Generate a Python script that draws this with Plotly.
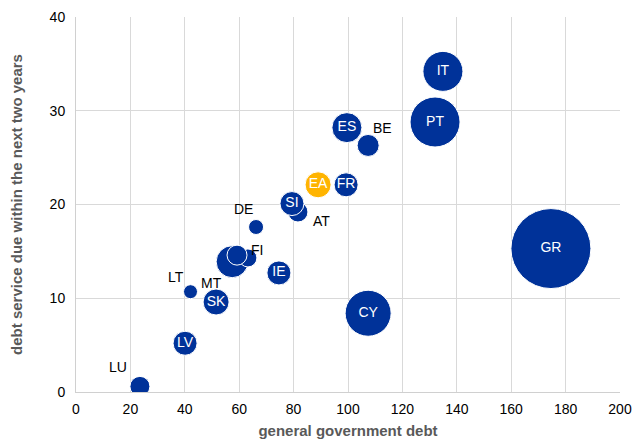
import plotly.graph_objects as go

# Data
countries = ["LU", "LT", "LV", "MT", "SK", "NL", "FI", "EE", "DE", "IE",
             "AT", "SI", "FR", "BE", "ES", "PT", "IT", "CY", "GR"]
gov_debt  = [23.5, 42.1, 40.1, 52.5, 51.5, 57.4, 63.2, 59.2, 66.2, 74.6,
             81.6, 79.4, 99.3, 107.4, 99.6, 132.0, 134.9, 107.4, 174.6]
debt_service = [0.6, 10.7, 5.2, 10.0, 9.6, 13.9, 14.3, 14.6, 17.6, 12.7,
                19.2, 20.1, 22.1, 26.3, 28.2, 28.8, 34.2, 8.4, 15.3]
bubble_value = [4.0, 1.96, 5.76, 1.0, 6.76, 10.24, 3.24, 4.0, 2.25, 5.76,
                4.0, 5.76, 5.76, 4.84, 9.0, 25.0, 16.0, 21.16, 64.0]

ea_label = ["EA"]
ea_debt = [89.0]
ea_service = [22.1]
ea_value = [6.76]

x_ticks = [0, 20, 40, 60, 80, 100, 120, 140, 160, 180, 200]
y_ticks = [0, 10, 20, 30, 40]

inside_labels = {"LV", "SK", "IE", "SI", "FR", "ES", "PT", "IT", "CY", "GR"}
# pixel offsets (x right, y up) of the outside labels
outside_shift = {"LU": (-22, 19), "LT": (-15, 15), "MT": (-7, 15),
                 "DE": (-13, 18), "FI": (9, 8), "AT": (24, -9), "BE": (14, 17)}

BLUE = "#003299"
YELLOW = "#FFB400"
SIZEREF = 0.02
FONT = "Liberation Sans, Arial"

fig = go.Figure()
fig.add_trace(go.Scatter(
    x=ea_debt, y=ea_service, text=ea_label, mode="markers+text",
    marker=dict(size=ea_value, sizemode="area", sizeref=SIZEREF, color=YELLOW,
                opacity=1, line=dict(color="white", width=1)),
    textposition="middle center",
    textfont=dict(color="white", size=14, family=FONT),
    hovertext=ea_label, showlegend=False))
fig.add_trace(go.Scatter(
    x=gov_debt, y=debt_service,
    text=[c if c in inside_labels else "" for c in countries],
    mode="markers+text",
    marker=dict(size=bubble_value, sizemode="area", sizeref=SIZEREF, color=BLUE,
                opacity=1, line=dict(color="white", width=1)),
    textposition="middle center",
    textfont=dict(color="white", size=14, family=FONT),
    hovertext=countries, showlegend=False))

for c, xv, yv in zip(countries, gov_debt, debt_service):
    if c in outside_shift:
        dx, dy = outside_shift[c]
        fig.add_annotation(x=xv, y=yv, text=c, showarrow=False,
                           xshift=dx, yshift=dy,
                           font=dict(color="black", size=14, family=FONT))

axis_common = dict(showgrid=True, gridcolor="#d9d9d9", gridwidth=1,
                   showline=True, linecolor="#d0d0d0", linewidth=1,
                   zeroline=False, ticks="outside", tickcolor="rgba(0,0,0,0)",
                   automargin=False,
                   tickfont=dict(family=FONT, size=14, color="black"))

fig.update_layout(
    width=625, height=431,
    margin=dict(l=68, r=13, t=9, b=47),
    plot_bgcolor="white", paper_bgcolor="white",
    xaxis=dict(range=[0, 200], tickvals=x_ticks, ticklen=4,
               title=dict(text="<b>general government debt</b>", standoff=18,
                          font=dict(family=FONT, size=15, color="#595959")),
               **axis_common),
    yaxis=dict(range=[0, 40], tickvals=y_ticks, ticklen=7,
               title=dict(text="<b>debt service due within the next two years</b>", standoff=31,
                          font=dict(family=FONT, size=15, color="#595959")),
               **axis_common),
)

fig.write_html("out.html")
